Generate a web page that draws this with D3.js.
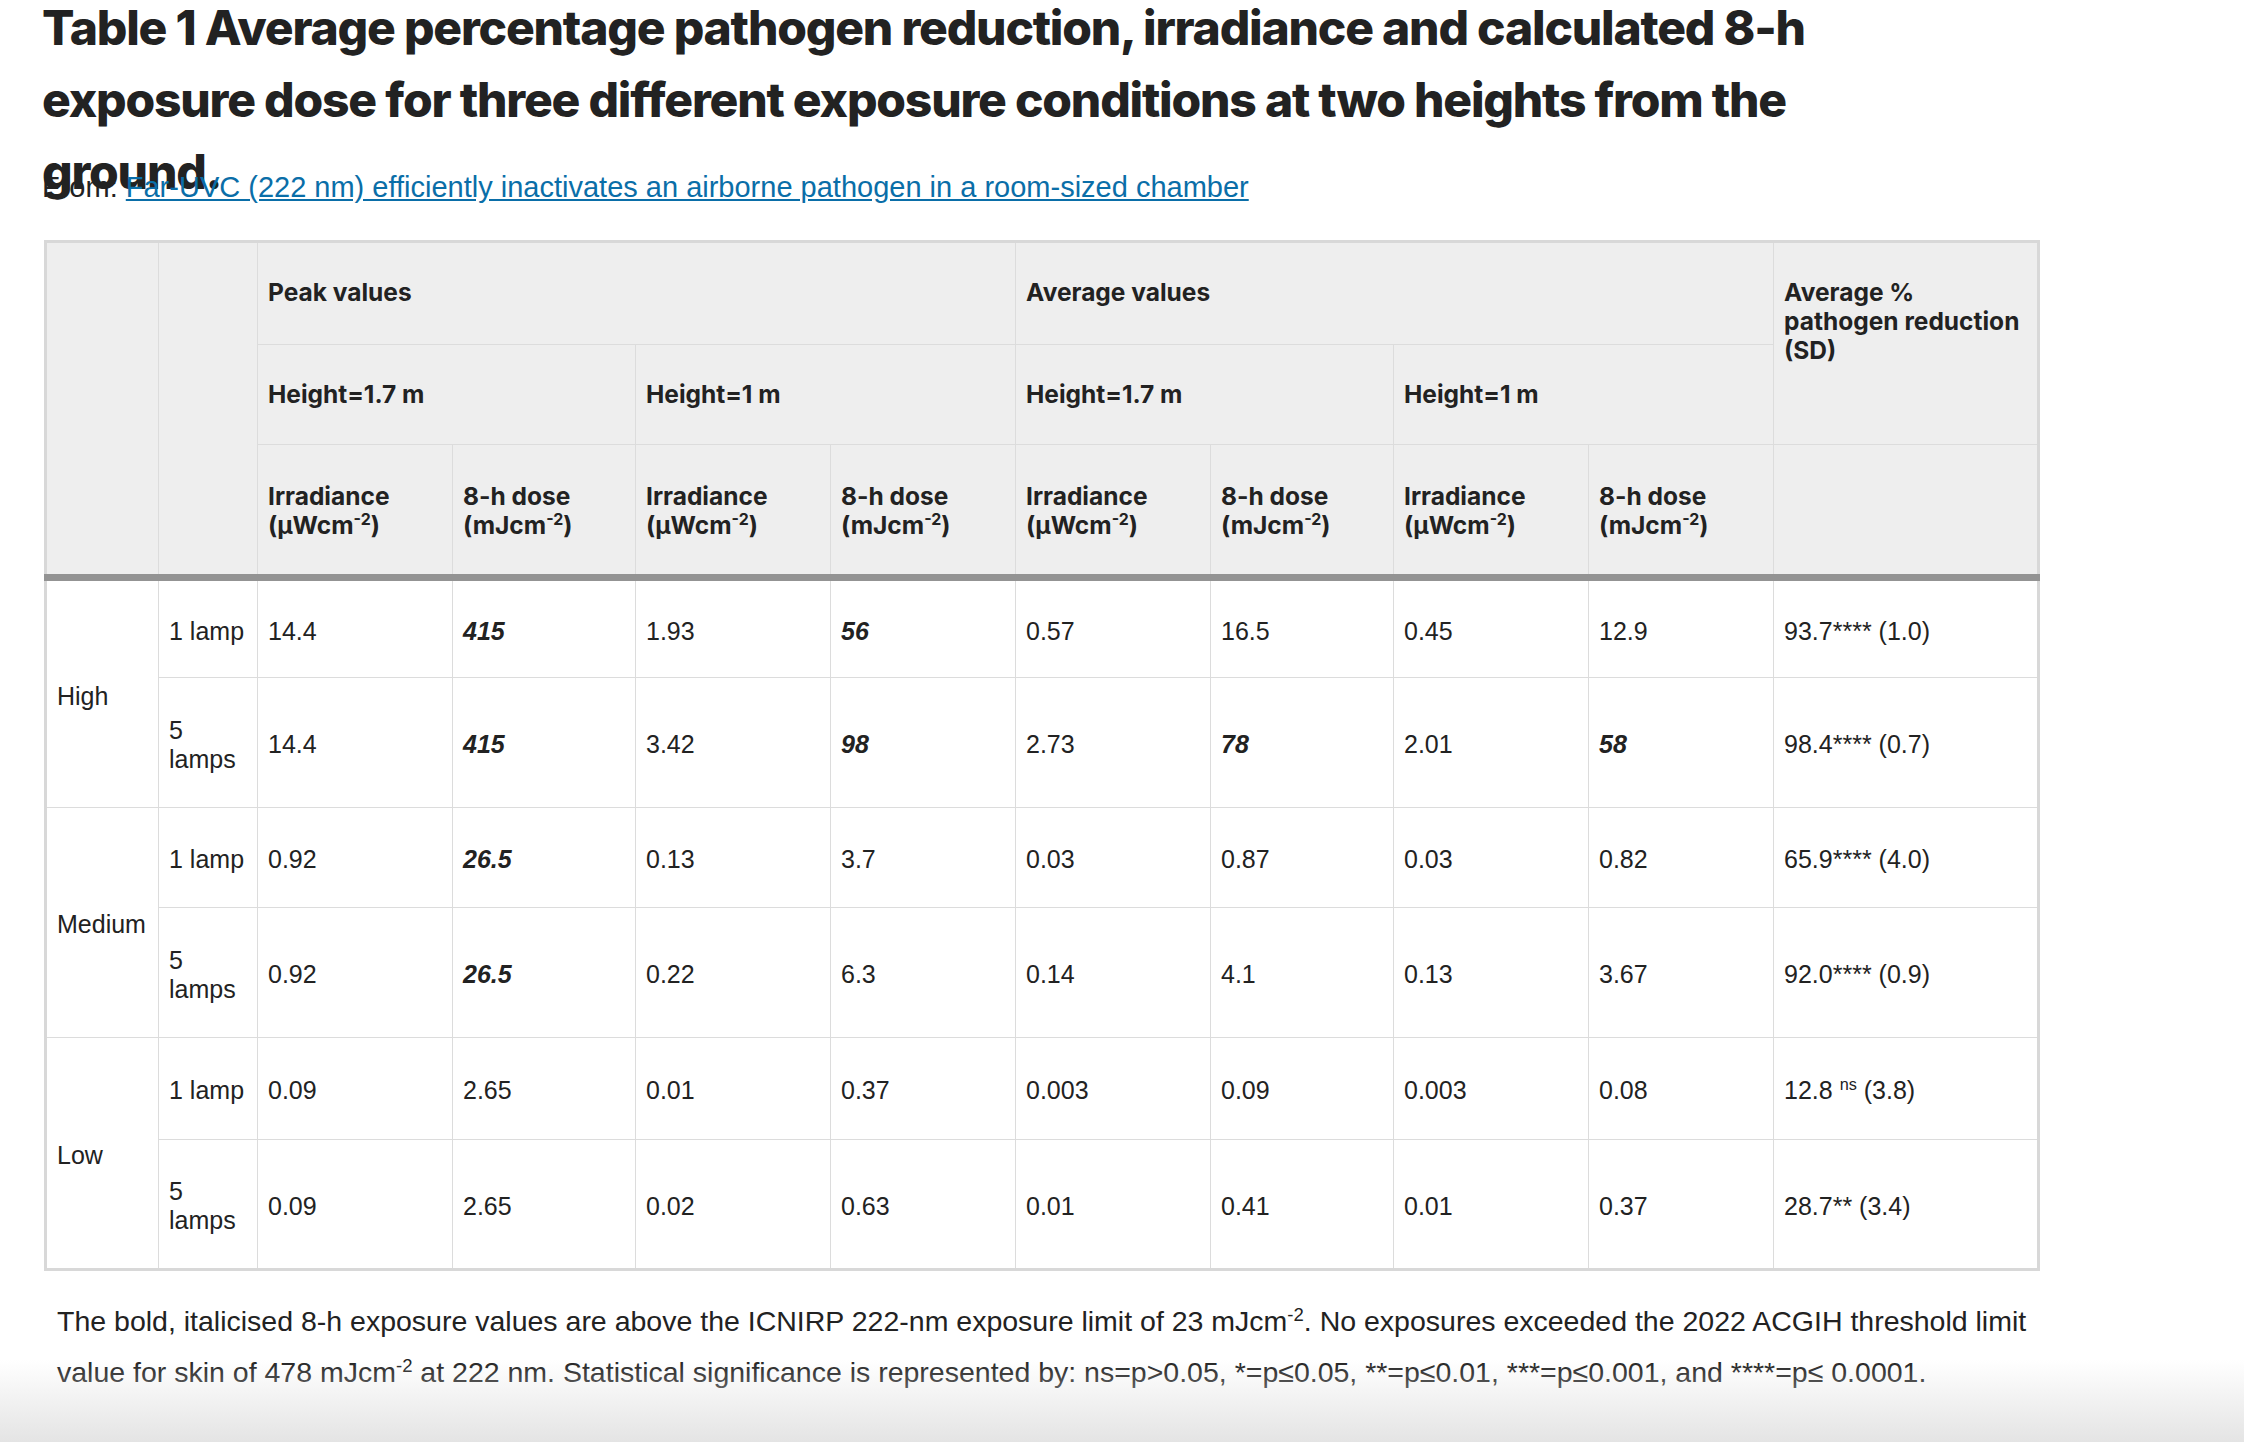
<!DOCTYPE html>
<html><head><meta charset="utf-8">
<script src="https://cdn.jsdelivr.net/npm/d3@7"></script>
<style>
body{margin:0;width:2244px;height:1442px;background:#fff;font-family:"Liberation Sans",Arial,sans-serif;color:#222;position:relative;overflow:hidden}
h1{position:absolute;left:42px;top:-8px;margin:0;font-family:Inter,sans-serif;font-weight:800;font-size:48px;line-height:72px;letter-spacing:-1.2px;color:#222;width:1850px}
.from{position:absolute;left:42px;top:171px;font-size:29px}
.from a{color:#0a6ea8;text-decoration:underline}
table{position:absolute;left:44px;top:240px;border-collapse:collapse;border:3px solid #d8d8d8;table-layout:fixed}
td,th{border:1px solid #dcdcdc;padding:0 10px;vertical-align:middle;text-align:left;font-size:25px}
td{padding-top:4px}
thead th{background:#eeeeee;font-family:Inter,sans-serif;font-weight:700;vertical-align:top;padding-top:35px;line-height:29px;font-size:24.5px}
thead tr:last-child th{padding-top:37px}
thead{border-bottom:7px solid #939393}
.bi{font-weight:700;font-style:italic}
sup{font-size:0.65em;line-height:0}
.note{position:absolute;left:57px;top:1296px;width:1990px;font-size:28.5px;line-height:51px;color:#222}
.fade{position:absolute;left:0;top:1360px;width:2244px;height:82px;background:linear-gradient(rgba(235,235,235,0),rgba(225,225,225,0.9));pointer-events:none}
</style></head><body>
<h1>Table 1 Average percentage pathogen reduction, irradiance and calculated 8-h exposure dose for three different exposure conditions at two heights from the ground.</h1>
<div class="from">From: <a>Far-UVC (222 nm) efficiently inactivates an airborne pathogen in a room-sized chamber</a></div>
<div id="t"></div>
<div class="note">The bold, italicised 8-h exposure values are above the ICNIRP 222-nm exposure limit of 23 mJcm<sup>-2</sup>. No exposures exceeded the 2022 ACGIH threshold limit value for skin of 478 mJcm<sup>-2</sup> at 222 nm. Statistical significance is represented by: ns=p&gt;0.05, *=p≤0.05, **=p≤0.01, ***=p≤0.001, and ****=p≤ 0.0001.</div>
<div class="fade"></div>
<script>
const conditions = ["High","Medium","Low"];
const lamps = ["1 lamp","5<br>lamps"];
const colWidths = [113,99,195,183,195,185,195,183,195,185,265];
const headerHeights = [103,100,133];
const rowHeights = [100,130,100,130,102,130];
const values = [
  ["14.4","415","1.93","56","0.57","16.5","0.45","12.9","93.7**** (1.0)"],
  ["14.4","415","3.42","98","2.73","78","2.01","58","98.4**** (0.7)"],
  ["0.92","26.5","0.13","3.7","0.03","0.87","0.03","0.82","65.9**** (4.0)"],
  ["0.92","26.5","0.22","6.3","0.14","4.1","0.13","3.67","92.0**** (0.9)"],
  ["0.09","2.65","0.01","0.37","0.003","0.09","0.003","0.08","12.8 <sup>ns</sup> (3.8)"],
  ["0.09","2.65","0.02","0.63","0.01","0.41","0.01","0.37","28.7** (3.4)"]
];
const boldItalic = [[0,1],[0,3],[1,1],[1,3],[1,5],[1,7],[2,1],[3,1]];

const table = d3.select("#t").append("table");
table.append("colgroup").selectAll("col").data(colWidths).join("col").style("width",d=>d+"px");
table.style("width", d3.sum(colWidths)+"px");
const thead = table.append("thead");
const irr = "Irradiance<br>(µWcm<sup>-2</sup>)", dose = "8-h dose<br>(mJcm<sup>-2</sup>)";
const r1 = thead.append("tr").style("height",headerHeights[0]+"px");
r1.append("th").attr("rowspan",3); r1.append("th").attr("rowspan",3);
r1.append("th").attr("colspan",4).text("Peak values");
r1.append("th").attr("colspan",4).text("Average values");
r1.append("th").attr("rowspan",2).html("Average %<br>pathogen reduction<br>(SD)");
const r2 = thead.append("tr").style("height",headerHeights[1]+"px");
["Height = 1.7 m","Height = 1 m","Height = 1.7 m","Height = 1 m"].forEach(t=>r2.append("th").attr("colspan",2).text(t.replace(/ = /,"=")));
const r3 = thead.append("tr").style("height",headerHeights[2]+"px");
[irr,dose,irr,dose,irr,dose,irr,dose].forEach(t=>r3.append("th").html(t));
r3.append("th");
const tbody = table.append("tbody");
values.forEach((row,i)=>{
  const tr = tbody.append("tr").style("height",rowHeights[i]+"px");
  if(i%2===0) tr.append("td").attr("rowspan",2).text(conditions[i/2]);
  tr.append("td").style("padding","4px 0 0 10px").html(lamps[i%2]);
  row.forEach((v,j)=>{
    const td = tr.append("td").html(v);
    if(boldItalic.some(b=>b[0]===i&&b[1]===j)) td.classed("bi",true);
  });
});
</script>
</body></html>
